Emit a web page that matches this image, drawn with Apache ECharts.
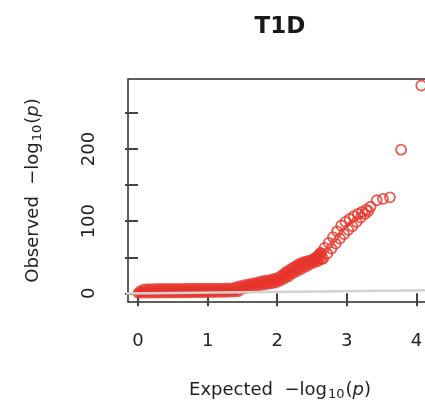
<!DOCTYPE html>
<html>
<head>
<meta charset="utf-8">
<script src="https://cdn.jsdelivr.net/npm/echarts@6/dist/echarts.min.js"></script>
<style>
  html, body { margin: 0; padding: 0; background: #fff; overflow: hidden; }
  #chart { width: 445px; height: 406px; }
</style>
</head>
<body>
<div id="chart"></div>
<script>
// QQ plot, T1D.
// dense part of the band (overplotted, drawn filled)
const lowX = [0, 0.06, 0.12, 0.18, 0.24, 0.30, 0.36, 0.42, 0.48, 0.54, 0.60, 0.66, 0.72, 0.78, 0.84, 0.90, 0.96, 1.02, 1.08, 1.14, 1.20, 1.26, 1.32, 1.38, 1.44,
  1.50, 1.56, 1.62, 1.68, 1.74, 1.80, 1.86, 1.92, 1.98, 2.04, 2.10, 2.16, 2.22, 2.28, 2.34, 2.40, 2.46, 2.52, 2.58, 2.64]
const lowY = [0.2, 0.3, 0.3, 0.4, 0.4, 0.5, 0.5, 0.6, 0.6, 0.7, 0.7, 0.8, 0.8, 0.9, 1.0, 1.0, 1.1, 1.2, 1.3, 1.4, 1.5, 1.6, 1.8, 2.0, 2.5,
  6, 7, 8.5, 9.5, 10.5, 11.5, 12.5, 13.5, 14.5, 17, 20, 23, 27, 30, 33, 36, 39, 42, 44, 47]
const highX = [0.03, 0.09, 0.15, 0.21, 0.27, 0.33, 0.39, 0.45, 0.51, 0.57, 0.63, 0.69, 0.75, 0.81, 0.87, 0.93, 0.99, 1.05, 1.11, 1.17, 1.23, 1.29,
  1.35, 1.41, 1.47, 1.53, 1.59, 1.65, 1.71, 1.77, 1.83, 1.89, 1.95, 2.01, 2.06, 2.11, 2.16, 2.21, 2.26, 2.31, 2.36, 2.41, 2.46, 2.51, 2.55, 2.59, 2.63]
const highY = [3.5, 6.0, 6.3, 6.5, 6.6, 6.6, 6.7, 6.7, 6.8, 6.8, 6.8, 6.9, 6.9, 6.9, 7.0, 7.0, 7.0, 7.0, 7.1, 7.1, 7.2, 7.3,
  7.5, 9, 10.5, 12, 13, 14.5, 15.5, 17, 18, 19, 20.5, 22, 25, 29, 32, 35, 38, 41, 43, 44.5, 46, 47.5, 50, 53, 56]
// upper tail, single open circles
const tailX = [2.62, 2.66, 2.68, 2.72, 2.74, 2.78, 2.80, 2.84, 2.86, 2.90, 2.92, 2.96, 2.98, 3.02, 3.04, 3.08, 3.10, 3.14, 3.16, 3.20, 3.22, 3.26, 3.28, 3.31, 3.34, 3.43, 3.52, 3.62, 3.78, 4.07]
const tailY = [56, 48, 63, 55, 70, 62, 78, 69, 86, 76, 94, 82, 99, 88, 103, 93, 107, 99, 110, 105, 113, 110, 116, 114, 120, 129, 131, 133, 199, 288]
// expected = observed reference line
const refX = [-0.3, 4.6]
const refY = [-0.3, 4.6]

const xTicks = [0, 1, 2, 3, 4]
const yTicks = [0, 50, 100, 150, 200, 250]
const yLabels = [0, 100, 200]

const red = '#e6342a'
const font = '"DejaVu Sans", sans-serif'

const zip = (xs, ys) => xs.map((x, i) => [x, ys[i]])

const richName = {
  a: { fontFamily: font, fontSize: 18, color: '#222', lineHeight: 22 },
  s: { fontFamily: font, fontSize: 13, color: '#222', lineHeight: 13, verticalAlign: 'bottom', padding: [12, 1, 0, 1] },
  i: { fontFamily: font, fontSize: 18, color: '#222', fontStyle: 'italic', lineHeight: 22 }
}

const chart = echarts.init(document.getElementById('chart'), null, { renderer: 'canvas' })

chart.setOption({
  animation: false,
  graphic: [{
    type: 'text',
    x: 280,
    y: 27,
    style: {
      text: 'T1D',
      fontFamily: font,
      fontSize: 23,
      fontWeight: 'bold',
      fill: '#1a1a1a',
      align: 'center',
      verticalAlign: 'middle'
    }
  }],
  grid: {
    left: 128,
    top: 79,
    width: 304,
    height: 226,
    show: true,
    borderColor: '#2a2a2a',
    borderWidth: 1.5,
    backgroundColor: 'transparent'
  },
  xAxis: {
    type: 'value',
    min: -0.144,
    max: 4.224,
    axisLine: { show: false },
    splitLine: { show: false },
    axisTick: { show: true, length: 13, customValues: xTicks, lineStyle: { color: '#444', width: 2 } },
    axisLabel: { customValues: xTicks, margin: 30, fontFamily: font, fontSize: 18, color: '#222' },
    name: '{a|Expected  −log}{s|10}{a|(}{i|p}{a|)}',
    nameLocation: 'middle',
    nameGap: 77,
    nameTextStyle: { rich: richName }
  },
  yAxis: {
    type: 'value',
    min: -12,
    max: 297,
    axisLine: { show: false },
    splitLine: { show: false },
    axisTick: { show: true, length: 13, customValues: yTicks, lineStyle: { color: '#444', width: 2 } },
    axisLabel: { customValues: yLabels, rotate: 90, margin: 30, fontFamily: font, fontSize: 18, color: '#222' },
    name: '{a|Observed  −log}{s|10}{a|(}{i|p}{a|)}',
    nameLocation: 'middle',
    nameRotate: 90,
    nameGap: 84,
    nameTextStyle: { rich: richName }
  },
  series: [
    {
      type: 'scatter',
      data: zip(lowX, lowY).concat(zip(highX, highY)),
      symbol: 'circle',
      symbolSize: 11,
      itemStyle: { color: red },
      z: 2
    },
    {
      type: 'scatter',
      data: zip(tailX, tailY),
      symbol: 'circle',
      symbolSize: 10,
      itemStyle: { color: 'rgba(255,255,255,0)', borderColor: red, borderWidth: 1.8 },
      z: 3
    },
    {
      type: 'line',
      data: zip(refX, refY),
      symbol: 'none',
      lineStyle: { color: '#d2d2d2', width: 2.5 },
      z: 4
    }
  ]
})
</script>
</body>
</html>
